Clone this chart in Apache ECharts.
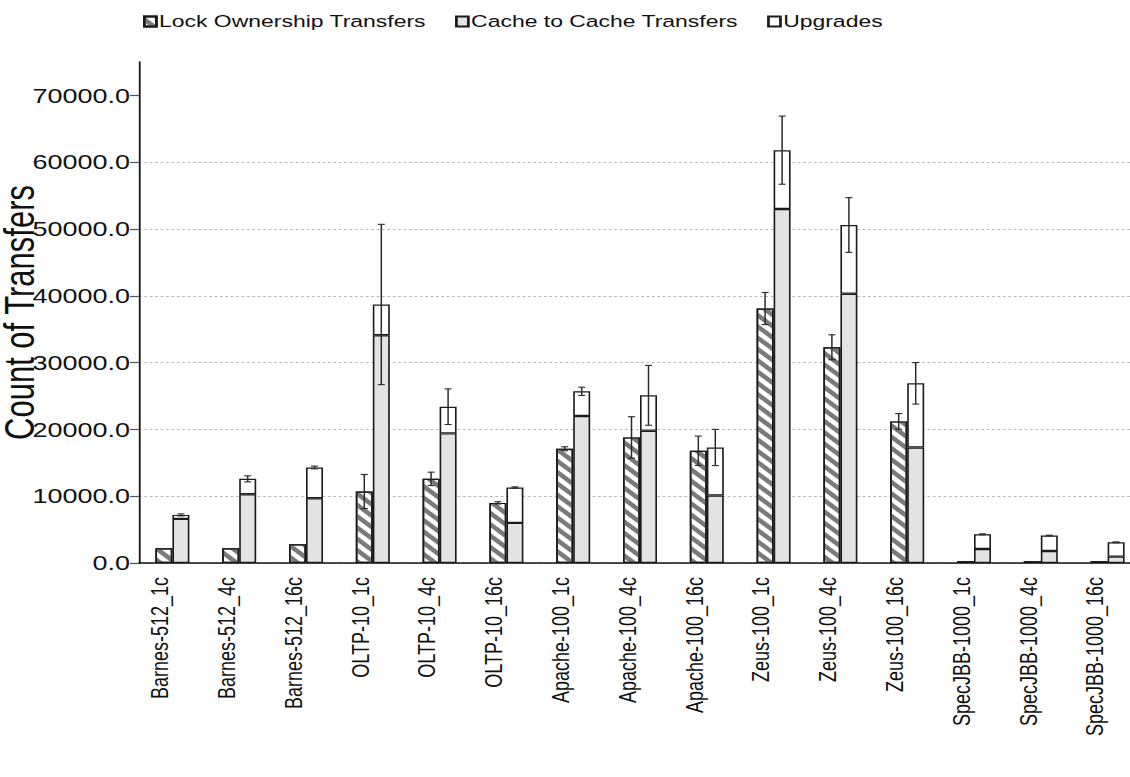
<!DOCTYPE html>
<html>
<head>
<meta charset="utf-8">
<style>
  html, body { margin: 0; padding: 0; background: #fff; overflow: hidden; }
  #chart { height: 777px; transform-origin: 0 0; }
</style>
<script src="https://cdn.jsdelivr.net/npm/echarts@6/dist/echarts.min.js"></script>
</head>
<body>
<div id="chart"></div>
<script>
// Workload configurations along the x axis
const categories = [
  'Barnes-512_1c', 'Barnes-512_4c', 'Barnes-512_16c',
  'OLTP-10_1c', 'OLTP-10_4c', 'OLTP-10_16c',
  'Apache-100_1c', 'Apache-100_4c', 'Apache-100_16c',
  'Zeus-100_1c', 'Zeus-100_4c', 'Zeus-100_16c',
  'SpecJBB-1000_1c', 'SpecJBB-1000_4c', 'SpecJBB-1000_16c'
];

// Mean transfer counts per configuration
const lockOwnership = [2200, 2200, 2800, 10700, 12600, 9000, 17100, 18800, 16800, 38100, 32300, 21200, 300, 300, 300];
const cacheToCache  = [6600, 10300, 9700, 34100, 19400, 6000, 22000, 19800, 10100, 53000, 40300, 17300, 2100, 1800, 950];
const upgrades      = [600, 2300, 4600, 4600, 4000, 5300, 3700, 5300, 7200, 8800, 10300, 9600, 2200, 2300, 2150];

// Half-width of the error bars (lock bar, and cache+upgrades stack)
const lockError  = [0, 0, 0, 2550, 1000, 170, 300, 3100, 2200, 2400, 1870, 1170, 0, 0, 0];
const stackError = [150, 450, 200, 12000, 2670, 100, 620, 4480, 2710, 5100, 4090, 3110, 60, 60, 60];

// Y axis tick values
const yTicks = [0, 10000, 20000, 30000, 40000, 50000, 60000, 70000];

// The plot uses a wide horizontal aspect: the chart is laid out in a
// narrower box and stretched sideways by SX.
const SX = 1.35;
const W = 1130, H = 777;
const hx = v => v / SX;            // horizontal page pixels -> chart pixels

const FONT = "'Liberation Sans', Arial, sans-serif";
const BAR_W = hx(17);

const el = document.getElementById('chart');
el.style.width = (W / SX) + 'px';
el.style.transform = 'scaleX(' + SX + ')';

const errorData = [];
categories.forEach((c, i) => {
  if (lockError[i] > 0) errorData.push([i, lockOwnership[i], lockError[i], -1]);
  if (stackError[i] > 0) errorData.push([i, cacheToCache[i] + upgrades[i], stackError[i], 1]);
});

const chart = echarts.init(el, null, { renderer: 'svg', width: W / SX, height: H });

const barBorder = { borderColor: '#1a1a1a', borderWidth: 1.2 };

chart.setOption({
  animation: false,
  backgroundColor: '#fff',
  textStyle: { fontFamily: FONT },
  legend: {
    top: 13,
    left: hx(143),
    padding: 0,
    itemWidth: hx(12),
    itemHeight: 10,
    itemGap: hx(29),
    icon: 'rect',
    textStyle: { fontSize: 17, color: '#111', fontFamily: FONT, padding: [0, 0, 0, -3] },
    data: ['Lock Ownership Transfers', 'Cache to Cache Transfers', 'Upgrades']
  },
  grid: {
    left: hx(139), top: 62, width: hx(1002), height: 501,
    containLabel: false,
    outerBoundsMode: 'none'
  },
  xAxis: {
    type: 'category',
    data: categories,
    axisLine: { lineStyle: { color: '#111', width: 1.6 } },
    axisTick: { alignWithLabel: true, length: 9, lineStyle: { color: '#333', width: 1 } },
    axisLabel: {
      rotate: 90, fontSize: 18, lineHeight: 18, color: '#111', margin: 14,
      verticalAlign: 'bottom', fontFamily: FONT
    },
    splitLine: { show: false }
  },
  yAxis: {
    type: 'value',
    min: 0,
    max: 75000,
    interval: 10000,
    name: 'Count of Transfers',
    nameLocation: 'middle',
    nameGap: 73,
    nameMoveOverlap: false,
    nameTextStyle: { fontSize: 31, color: '#111', fontFamily: FONT },
    axisLine: { show: true, lineStyle: { color: '#111', width: 1.3 } },
    axisTick: { show: true, length: hx(9), customValues: yTicks, lineStyle: { color: '#555', width: 1.2 } },
    axisLabel: {
      fontSize: 20, color: '#111', margin: hx(9), fontFamily: FONT,
      customValues: yTicks,
      formatter: v => v.toFixed(1)
    },
    splitLine: { show: true, showMaxLine: false, lineStyle: { color: '#b8b8b8', type: [2, 2], width: 1 } }
  },
  series: [
    {
      name: 'Lock Ownership Transfers',
      type: 'bar',
      stack: 'lock',
      barWidth: BAR_W,
      barGap: '0%',
      data: lockOwnership,
      itemStyle: Object.assign({
        color: '#ffffff',
        decal: {
          symbol: 'rect',
          dashArrayX: [1, 0],
          dashArrayY: [3.5, 3.5],
          rotation: Math.PI / 4,
          color: '#7a7a7a',
          symbolSize: 1
        }
      }, barBorder)
    },
    {
      name: 'Cache to Cache Transfers',
      type: 'bar',
      stack: 'xfer',
      barWidth: BAR_W,
      barGap: '0%',
      data: cacheToCache,
      itemStyle: Object.assign({ color: '#e3e3e3' }, barBorder)
    },
    {
      name: 'Upgrades',
      type: 'bar',
      stack: 'xfer',
      barWidth: BAR_W,
      barGap: '0%',
      data: upgrades,
      itemStyle: Object.assign({ color: '#ffffff' }, barBorder)
    },
    {
      name: 'error',
      type: 'custom',
      z: 10,
      clip: false,
      silent: true,
      encode: { x: 0, y: 1 },
      data: errorData,
      renderItem: function (params, api) {
        const idx = api.value(0);
        const val = api.value(1);
        const err = api.value(2);
        const side = api.value(3);
        const hi = api.coord([idx, val + err]);
        const lo = api.coord([idx, val - err]);
        const x = hi[0] + side * BAR_W / 2;
        const cap = hx(3.5);
        const style = { stroke: '#2a2a2a', lineWidth: 1.1 };
        return {
          type: 'group',
          children: [
            { type: 'line', shape: { x1: x, y1: hi[1], x2: x, y2: lo[1] }, style: style },
            { type: 'line', shape: { x1: x - cap, y1: hi[1], x2: x + cap, y2: hi[1] }, style: style },
            { type: 'line', shape: { x1: x - cap, y1: lo[1], x2: x + cap, y2: lo[1] }, style: style }
          ]
        };
      }
    }
  ]
});
</script>
</body>
</html>
